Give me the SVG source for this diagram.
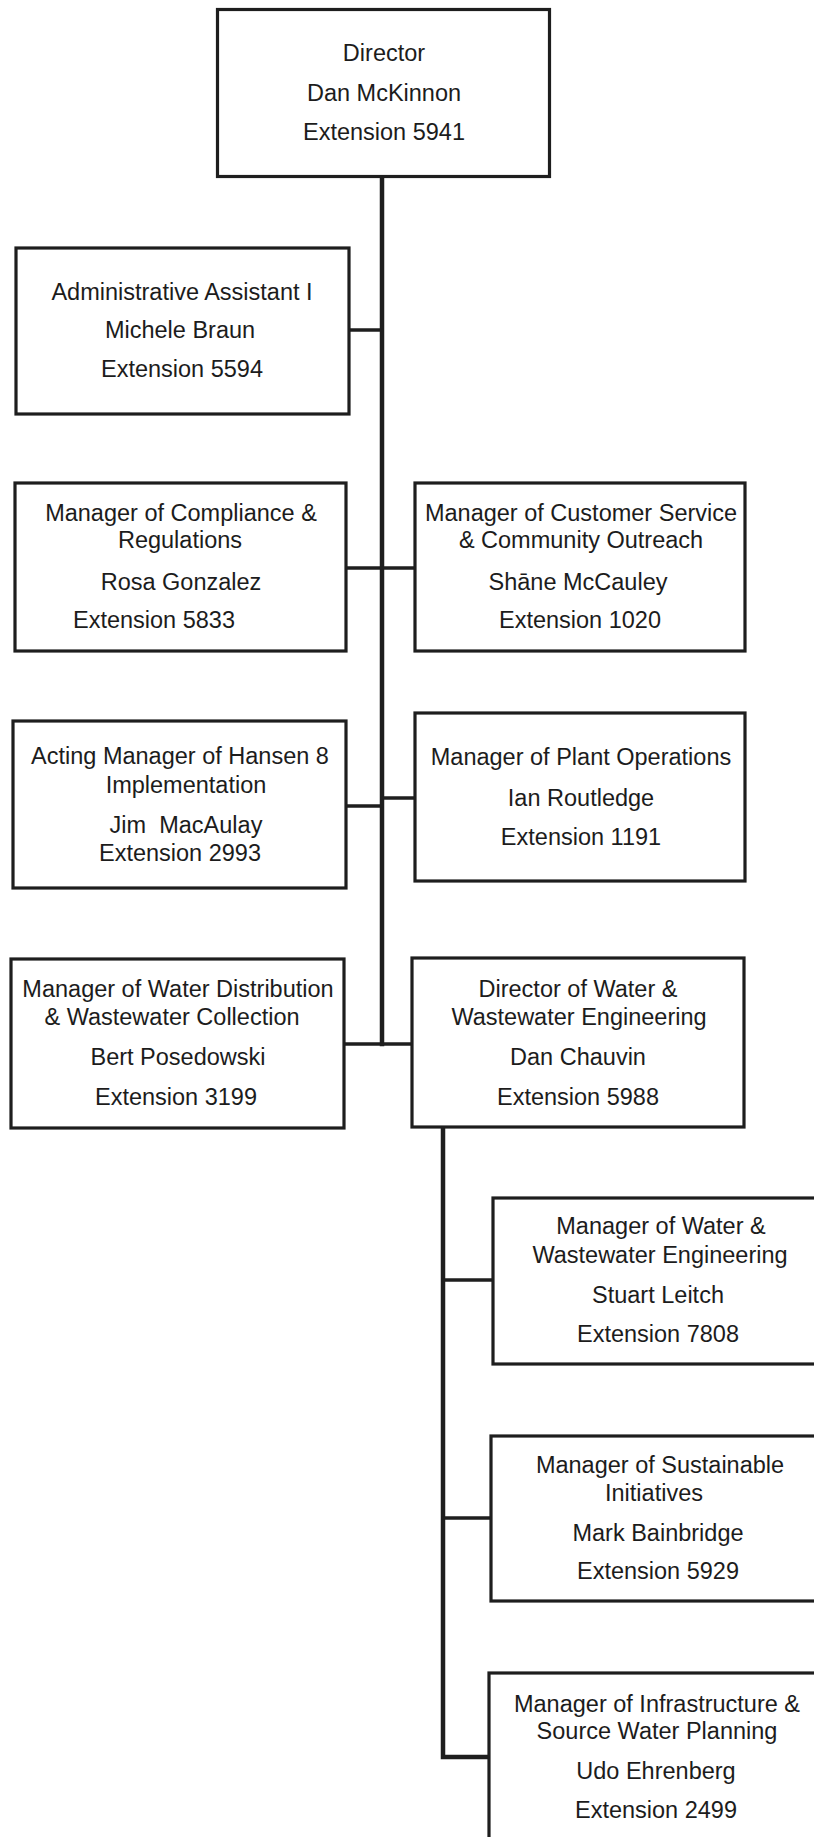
<svg xmlns="http://www.w3.org/2000/svg" width="814" height="1837" viewBox="0 0 814 1837">
<style>
.box{fill:#ffffff;stroke:#1e1e1e;stroke-width:3.2}
.ln{stroke:#1e1e1e;fill:none;stroke-linecap:square}
.t{font-family:"Liberation Sans",Arial,sans-serif;font-size:23.5px;fill:#1c1c1c;text-anchor:middle}
</style>
<rect width="814" height="1837" fill="#ffffff"/>
<g id="connectors">
<line class="ln" x1="382" y1="177" x2="382" y2="1044" stroke-width="4.5"/>
<line class="ln" x1="349" y1="330" x2="382" y2="330" stroke-width="3.5"/>
<line class="ln" x1="346" y1="568" x2="415" y2="568" stroke-width="3.5"/>
<line class="ln" x1="346" y1="806" x2="382" y2="806" stroke-width="3.5"/>
<line class="ln" x1="382" y1="798" x2="415" y2="798" stroke-width="3.5"/>
<line class="ln" x1="344" y1="1044" x2="412" y2="1044" stroke-width="3.5"/>
<polyline class="ln" points="443,1128 443,1757 489,1757" stroke-width="4.5"/>
<line class="ln" x1="443" y1="1280" x2="493" y2="1280" stroke-width="3.5"/>
<line class="ln" x1="443" y1="1518" x2="491" y2="1518" stroke-width="3.5"/>
</g>
<g id="director">
<rect class="box" x="217.5" y="9.5" width="332" height="167"/>
<text class="t" x="384" y="61">Director</text>
<text class="t" x="384" y="101">Dan McKinnon</text>
<text class="t" x="384" y="140">Extension 5941</text>
</g>
<g id="admin">
<rect class="box" x="16" y="248" width="333" height="166"/>
<text class="t" x="182" y="300">Administrative Assistant I</text>
<text class="t" x="180" y="338">Michele Braun</text>
<text class="t" x="182" y="377">Extension 5594</text>
</g>
<g id="compliance">
<rect class="box" x="15" y="483" width="331" height="168"/>
<text class="t" x="181" y="521">Manager of Compliance &amp;</text>
<text class="t" x="180" y="548">Regulations</text>
<text class="t" x="181" y="590">Rosa Gonzalez</text>
<text class="t" x="154" y="628">Extension 5833</text>
</g>
<g id="customer">
<rect class="box" x="415" y="483" width="330" height="168"/>
<text class="t" x="581" y="521">Manager of Customer Service</text>
<text class="t" x="581" y="548">&amp; Community Outreach</text>
<text class="t" x="578" y="590">Shāne McCauley</text>
<text class="t" x="580" y="628">Extension 1020</text>
</g>
<g id="hansen">
<rect class="box" x="13" y="721" width="333" height="167"/>
<text class="t" x="180" y="764">Acting Manager of Hansen 8</text>
<text class="t" x="186" y="793">Implementation</text>
<text class="t" x="186" y="833" xml:space="preserve">Jim  MacAulay</text>
<text class="t" x="180" y="861">Extension 2993</text>
</g>
<g id="plant">
<rect class="box" x="415" y="713" width="330" height="168"/>
<text class="t" x="581" y="765">Manager of Plant Operations</text>
<text class="t" x="581" y="806">Ian Routledge</text>
<text class="t" x="581" y="845">Extension 1191</text>
</g>
<g id="waterdist">
<rect class="box" x="11" y="959" width="333" height="169"/>
<text class="t" x="178" y="997">Manager of Water Distribution</text>
<text class="t" x="172" y="1025">&amp; Wastewater Collection</text>
<text class="t" x="178" y="1065">Bert Posedowski</text>
<text class="t" x="176" y="1105">Extension 3199</text>
</g>
<g id="chauvin">
<rect class="box" x="412" y="958" width="332" height="169"/>
<text class="t" x="578" y="997">Director of Water &amp;</text>
<text class="t" x="579" y="1025">Wastewater Engineering</text>
<text class="t" x="578" y="1065">Dan Chauvin</text>
<text class="t" x="578" y="1105">Extension 5988</text>
</g>
<g id="leitch">
<rect class="box" x="493" y="1198" width="340" height="166"/>
<text class="t" x="661" y="1234">Manager of Water &amp;</text>
<text class="t" x="660" y="1263">Wastewater Engineering</text>
<text class="t" x="658" y="1303">Stuart Leitch</text>
<text class="t" x="658" y="1342">Extension 7808</text>
</g>
<g id="bainbridge">
<rect class="box" x="491" y="1436" width="340" height="165"/>
<text class="t" x="660" y="1473">Manager of Sustainable</text>
<text class="t" x="654" y="1501">Initiatives</text>
<text class="t" x="658" y="1541">Mark Bainbridge</text>
<text class="t" x="658" y="1579">Extension 5929</text>
</g>
<g id="ehrenberg">
<rect class="box" x="489" y="1673" width="340" height="180"/>
<text class="t" x="657" y="1712">Manager of Infrastructure &amp;</text>
<text class="t" x="657" y="1739">Source Water Planning</text>
<text class="t" x="656" y="1779">Udo Ehrenberg</text>
<text class="t" x="656" y="1818">Extension 2499</text>
</g>
</svg>
